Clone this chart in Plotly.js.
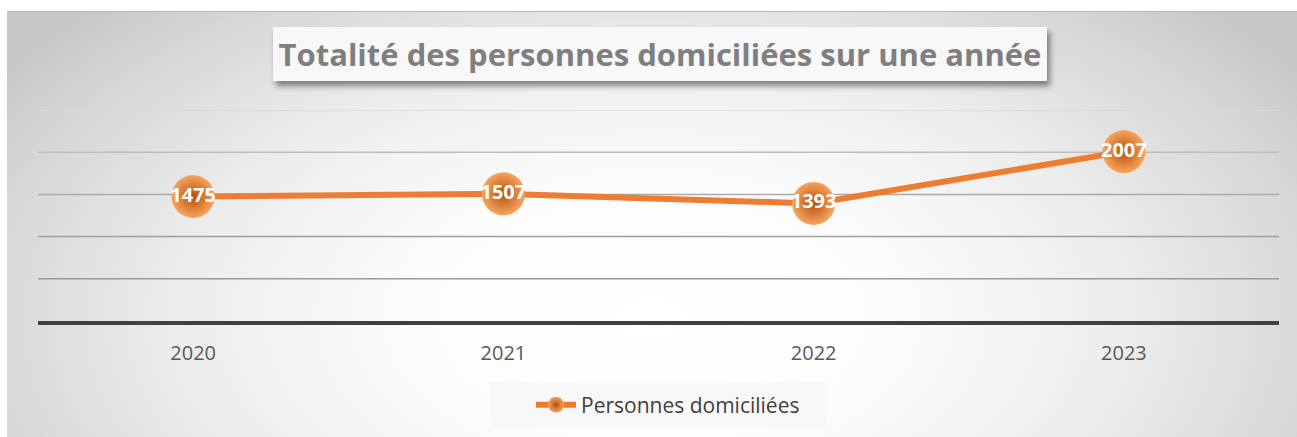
<!DOCTYPE html>
<html>
<head>
<meta charset="utf-8">
<script src="https://cdn.plot.ly/plotly-3.0.1.min.js"></script>
<style>
  html, body { margin:0; padding:0; background:#ffffff; width:1297px; height:437px; overflow:hidden; }
  #bg { position:absolute; left:7px; top:11px; width:1290px; height:426px;
        border-top:1px solid #b8b8b8;
        background: radial-gradient(ellipse 62% 105% at 50% 72%, #ffffff 0%, #fcfcfc 30%, #ececec 60%, #d6d6d6 85%, #c6c6c6 100%); }
  #titlebox { position:absolute; left:273px; top:27px; width:774px; height:54px; background:#f8f8f8;
        box-shadow: 3px 5px 6px rgba(0,0,0,0.45); }
  #legbox { position:absolute; left:490px; top:383px; width:337px; height:45px; background:#f8f8f8; }
  #chart { position:absolute; left:0; top:0; width:1297px; height:437px; }
</style>
</head>
<body>
<div id="bg"></div>
<div id="titlebox"></div>
<div id="legbox"></div>
<div id="chart"></div>
<script>
const years = ['2020', '2021', '2022', '2023'];
const values = [1475, 1507, 1393, 2007];
const seriesName = 'Personnes domiciliées';
const gridValues = [500, 1000, 1500, 2000, 2500];
const gridColors = ['#999999', '#9e9e9e', '#aaaaaa', '#bdbdbd', '#d8d8d8'];

const shapes = gridValues.map((v, i) => ({
  type: 'line', xref: 'paper', yref: 'y', x0: 0, x1: 1, y0: v, y1: v,
  line: { color: gridColors[i], width: 1.5 }, layer: 'below'
}));

const trace = {
  x: years, y: values, name: seriesName, type: 'scatter', mode: 'lines+markers+text',
  line: { color: '#ed7d31', width: 6 },
  marker: { size: 43, color: '#f8a45c', gradient: { type: 'radial', color: '#b4500e' }, line: { width: 0 } },
  text: values.map(String), textposition: 'middle center',
  textfont: { family: 'Open Sans', size: 20, color: '#ffffff', weight: 'bold' },
  cliponaxis: false, hoverinfo: 'x+y'
};

const layout = {
  width: 1297, height: 437,
  paper_bgcolor: 'rgba(0,0,0,0)', plot_bgcolor: 'rgba(0,0,0,0)',
  margin: { l: 38, r: 18, t: 110, b: 116 },
  title: { text: 'Totalité des personnes domiciliées sur une année', x: 660/1297, xanchor: 'center', xref: 'container',
           y: 1 - 55/437, yanchor: 'middle', yref: 'container',
           font: { family: 'Open Sans', size: 31, color: '#7f7f7f', weight: 'bold' } },
  xaxis: { type: 'category', range: [-0.5, 3.5], showgrid: false, zeroline: false,
           showline: true, linecolor: '#404040', linewidth: 4,
           ticks: '', tickfont: { family: 'Open Sans', size: 20, color: '#595959' }, ticklabelstandoff: 11 },
  yaxis: { range: [0, 2500], showgrid: false, zeroline: false, showticklabels: false, showline: false, ticks: '' },
  shapes: shapes,
  showlegend: true,
  legend: { orientation: 'h', x: 668/1297, xanchor: 'center', xref: 'container',
            y: 32/437, yanchor: 'middle', yref: 'container',
            bgcolor: 'rgba(0,0,0,0)', font: { family: 'Open Sans', size: 21, color: '#404040' }, itemwidth: 40 }
};

Plotly.newPlot('chart', [trace], layout, { displayModeBar: false, staticPlot: true });
</script>
</body>
</html>
